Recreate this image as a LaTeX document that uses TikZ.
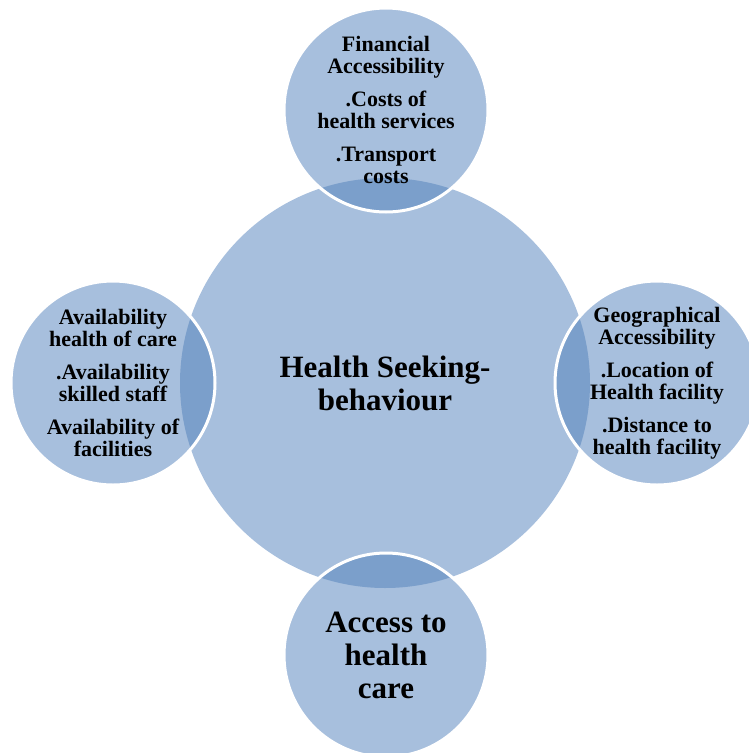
\documentclass[tikz,border=0pt]{standalone}
\usepackage{fontspec}
\setmainfont{Liberation Serif}
\usetikzlibrary{}
\definecolor{hsblue}{HTML}{A7BFDD}
\definecolor{hsdark}{HTML}{7B9FCB}
\tikzset{
  hub/.style={circle, fill=hsblue, minimum size=410pt, inner sep=0pt},
  spoke/.style={circle, fill=hsblue, minimum size=204pt, inner sep=0pt},
  bigtext/.style={align=center, inner sep=0pt, font=\bfseries\fontsize{31}{33}\selectfont},
  smalltext/.style={align=center, inner sep=0pt, font=\bfseries\fontsize{22}{22}\selectfont}
}

\begin{document}
\begin{tikzpicture}[x=1pt,y=-1pt]
    \useasboundingbox (0,0) rectangle (749,753);
    
    % middle circle
    \node[hub] (hub) at (385,383) {};
    
    % outer circles
    \node[spoke] (fin) at (386,110) {};
    \node[spoke] (geo) at (657,383) {};
    \node[spoke] (acc) at (386,655) {};
    \node[spoke] (ava) at (113,383) {};
    
    % overlaps and white rims
    \foreach \s in {fin,geo,acc,ava}{
        \begin{scope}
            \clip (\s.center) circle (102);
            \fill[hsdark] (hub.center) circle (205);
        \end{scope}
        \draw[white, line width=3pt] (\s.center) circle (102);
    }
    
    % texts
    \node[bigtext] (hub-txt) at (hub) {Health Seeking-\\behaviour};
    \node[smalltext] (fin-txt) at (fin) {Financial\\Accessibility\\[11pt].Costs of\\health services\\[11pt].Transport\\costs};
    \node[smalltext] (geo-txt) at (geo) {Geographical\\Accessibility\\[11pt].Location of\\Health facility\\[11pt].Distance to\\health facility};
    \node[bigtext] (acc-txt) at (acc) {Access to\\health\\care};
    \node[smalltext] (ava-txt) at (ava) {Availability\\health of care\\[11pt].Availability\\skilled staff\\[11pt]Availability of\\facilities};
\end{tikzpicture}
\end{document}
